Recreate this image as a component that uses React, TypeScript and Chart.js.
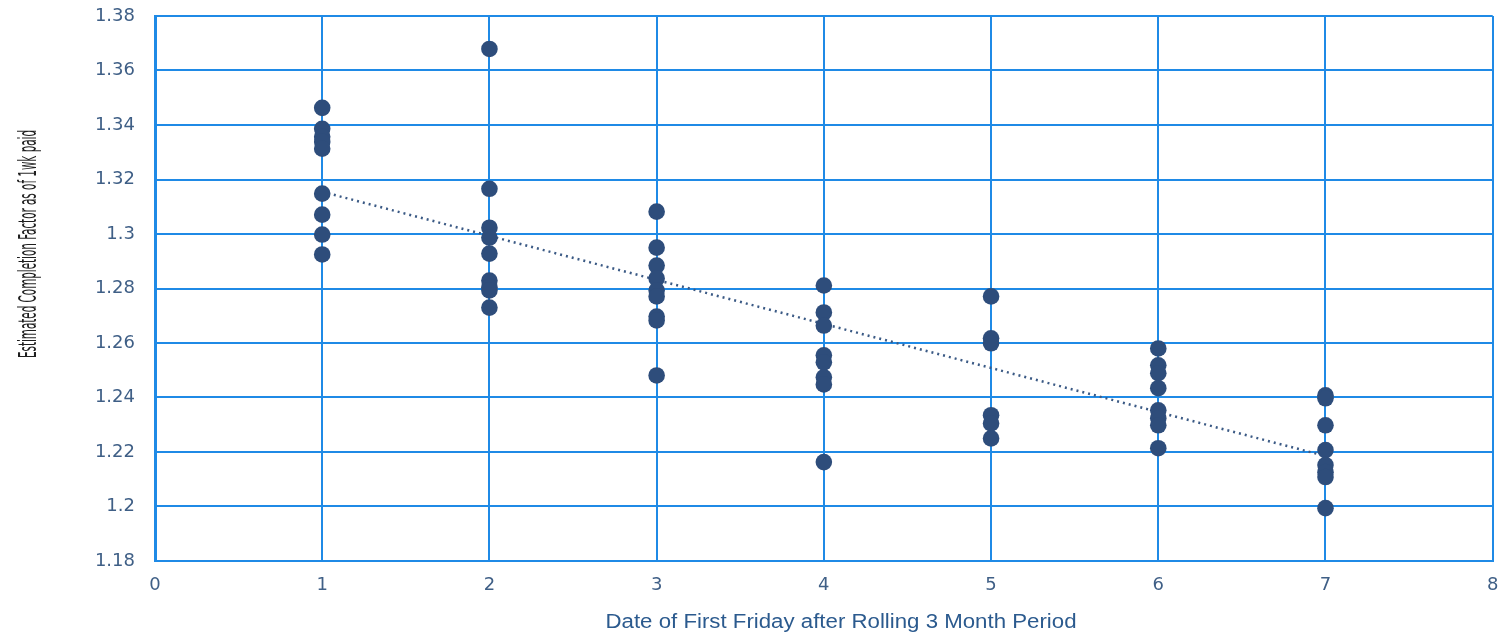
import React, { useEffect, useRef } from "react";
import { Chart, registerables } from "chart.js";

Chart.register(...registerables);

const xTitle = "Date of First Friday after Rolling 3 Month Period";
const yTitle = "Estimated Completion Factor as of 1wk paid";

const periods = [1, 2, 3, 4, 5, 6, 7];
const period1 = [1.3463, 1.3386, 1.3357, 1.3338, 1.3313, 1.3148, 1.3071, 1.2998, 1.2925];
const period2 = [1.3679, 1.3166, 1.3023, 1.2987, 1.2928, 1.2829, 1.2805, 1.2793, 1.273];
const period3 = [1.3082, 1.295, 1.2884, 1.2837, 1.2793, 1.2771, 1.2697, 1.2683, 1.2481];
const period4 = [1.2811, 1.2712, 1.2664, 1.2555, 1.2529, 1.2474, 1.2448, 1.2163];
const period5 = [1.2771, 1.2617, 1.2599, 1.2335, 1.2305, 1.225];
const period6 = [1.258, 1.2518, 1.2489, 1.2434, 1.2353, 1.2324, 1.2298, 1.2214];
const period7 = [1.2408, 1.2397, 1.2298, 1.2207, 1.2152, 1.2126, 1.2108, 1.1994];
const trendX = [1, 7];
const trendY = [1.3155, 1.2185];

const yMin = 1.18;
const yMax = 1.38;
const yStep = 0.02;
const xMin = 0;
const xMax = 8;

const GRID = "#1f8ae6";
const DOT = "#2e4d7b";
const TICK = "#3f5f86";
const TICK_FONT = "'DejaVu Sans', Verdana, sans-serif";

export default function App() {
  const ref = useRef<HTMLCanvasElement | null>(null);

  useEffect(() => {
    if (!ref.current) return;
    const groups = [period1, period2, period3, period4, period5, period6, period7];
    const points: { x: number; y: number }[] = [];
    groups.forEach((g, i) => g.forEach((v) => points.push({ x: periods[i], y: v })));

    const titlePlugin = {
      id: "titles",
      afterDraw(chart: any) {
        const ctx = chart.ctx;
        ctx.save();
        ctx.fillStyle = "#2b5a8e";
        ctx.font = "20px 'Liberation Sans', Arial, sans-serif";
        ctx.textAlign = "center";
        ctx.textBaseline = "middle";
        const w = ctx.measureText(xTitle).width;
        ctx.translate(841, 622);
        ctx.scale(471 / w, 1);
        ctx.fillText(xTitle, 0, 0);
        ctx.restore();

        ctx.save();
        ctx.fillStyle = "#1e1e1e";
        ctx.font = "24px 'Liberation Sans Narrow', 'DejaVu Sans Condensed', sans-serif";
        ctx.textAlign = "center";
        ctx.textBaseline = "middle";
        const w2 = ctx.measureText(yTitle).width;
        ctx.translate(30, 244);
        ctx.rotate(-Math.PI / 2);
        ctx.scale(228 / w2, 1);
        ctx.fillText(yTitle, 0, 0);
        ctx.restore();
      },
    };

    const chart = new Chart(ref.current, {
      type: "scatter",
      data: {
        datasets: [
          {
            label: "data",
            data: points,
            backgroundColor: DOT,
            borderWidth: 0,
            pointRadius: 8.3,
            pointHoverRadius: 8.3,
          },
          {
            label: "trend",
            type: "line",
            data: trendX.map((x, i) => ({ x, y: trendY[i] })),
            borderColor: "#3b5a85",
            borderWidth: 2.5,
            borderDash: [2, 4],
            pointRadius: 0,
            fill: false,
          } as any,
        ],
      },
      options: {
        responsive: false,
        animation: false,
        layout: { padding: { left: 0, right: 8, top: 16, bottom: 0 } },
        plugins: { legend: { display: false }, tooltip: { enabled: false } },
        scales: {
          x: {
            type: "linear",
            min: xMin,
            max: xMax,
            ticks: {
              stepSize: 1,
              color: TICK,
              font: { size: 18, family: TICK_FONT },
              padding: 14,
            },
            grid: { color: GRID, lineWidth: 2, drawTicks: false },
            border: { color: GRID, width: 2 },
            afterFit: (s: any) => {
              s.height = 72;
              s.paddingLeft = 0;
              s.paddingRight = 0;
            },
          },
          y: {
            min: yMin,
            max: yMax,
            ticks: {
              stepSize: yStep,
              color: TICK,
              font: { size: 18, family: TICK_FONT },
              padding: 20,
              callback: (v: any) => Number(Number(v).toFixed(2)).toString(),
            },
            grid: { color: GRID, lineWidth: 2, drawTicks: false },
            border: { color: GRID, width: 3 },
            afterFit: (s: any) => {
              s.width = 155;
              s.paddingTop = 0;
              s.paddingBottom = 0;
            },
          },
        },
      },
      plugins: [titlePlugin],
    });
    return () => chart.destroy();
  }, []);

  return (
    <div style={{ position: "fixed", left: 0, top: 0, width: 1501, height: 633, background: "#fff" }}>
      <canvas ref={ref} width={1501} height={633} />
    </div>
  );
}
